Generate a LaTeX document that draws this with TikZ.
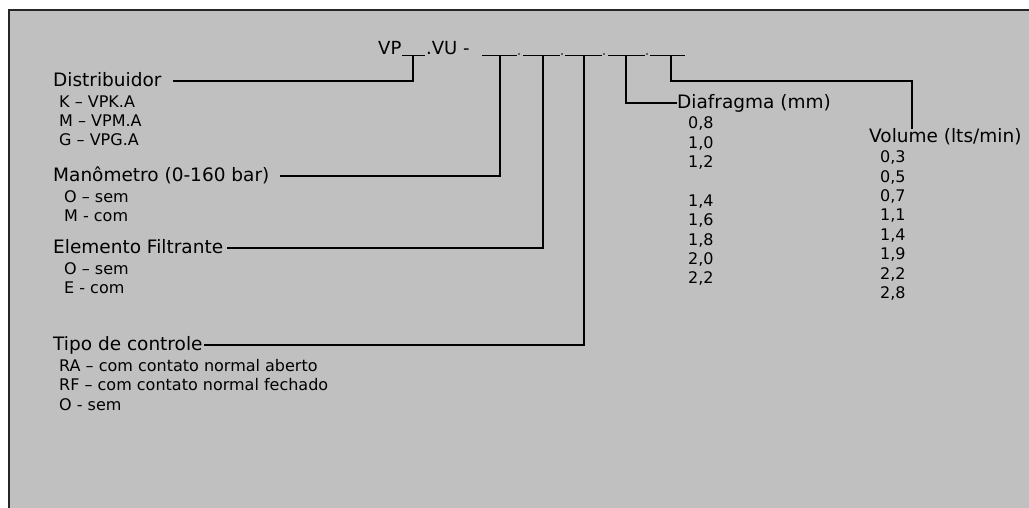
\documentclass[tikz,border=0pt]{standalone}
\usepackage{fontspec}
\setmainfont{DejaVu Sans}
\usetikzlibrary{positioning}
\definecolor{panelgray}{RGB}{192,192,192}
\tikzset{
    head/.style={inner sep=0pt, anchor=west, font=\fontsize{18.5}{21}\selectfont, text height=11pt, text depth=0pt},
    opts/.style={inner sep=0pt, align=left, font=\fontsize{16}{19.4}\selectfont},
    code/.style={inner sep=0pt, anchor=base west, font=\fontsize{18}{21}\selectfont},
    link/.style={line width=1.5pt, black},
    slot/.style={line width=1pt, black},
}

\begin{document}
\begin{tikzpicture}[x=1pt, y=-1pt]
\useasboundingbox (0,0) rectangle (1029,508);
\clip (0,0) rectangle (1029,508);
\draw[fill=panelgray, draw=black!85, line width=2pt] (9,10) rectangle (1040,520);

% order code
\node[code] (vp) at (378,55) {VP};
\node[code] (vu) at (426,55) {.VU -};
\foreach \a/\b in {402/425, 482/517, 523/560, 565/602, 608/645, 650/685}
    \draw[slot] (\a,56) -- (\b,56);
\foreach \x in {519, 562, 604, 647}
    \fill (\x,54) circle (0.9pt);
\coordinate (t0) at (413,56);
\coordinate (t1) at (500,56);
\coordinate (t2) at (543,56);
\coordinate (t3) at (584,56);
\coordinate (t4) at (626,56);
\coordinate (t5) at (671,56);

% left column
\node[head] (dist) at (53,81) {Distribuidor};
\node[opts, below right=8.5pt and 6pt of dist.south west] (dist-opts) {K -- VPK.A\\M -- VPM.A\\G -- VPG.A};

\node[head] (mano) at (53,176) {Manômetro (0-160 bar)};
\node[opts, below right=8.5pt and 11pt of mano.south west] (mano-opts) {O -- sem\\M - com};

\node[head] (elem) at (53,248) {Elemento Filtrante};
\node[opts, below right=8.5pt and 11pt of elem.south west] (elem-opts) {O -- sem\\E - com};

\node[head] (tipo) at (53,345) {Tipo de controle};
\node[opts, below right=8.5pt and 6pt of tipo.south west] (tipo-opts) {RA -- com contato normal aberto\\RF -- com contato normal fechado\\O - sem};

% right columns
\node[head] (diaf) at (677,103) {Diafragma (mm)};
\node[opts, below right=8pt and 11pt of diaf.south west] (diaf-opts) {0,8\\1,0\\1,2\\[19.4pt]1,4\\1,6\\1,8\\2,0\\2,2};

\node[head] (vol) at (869,137.5) {Volume (lts/min)};
\node[opts, below right=7.5pt and 11pt of vol.south west] (vol-opts) {0,3\\0,5\\0,7\\1,1\\1,4\\1,9\\2,2\\2,8};

% connectors
\draw[link] (t0) -- (t0 |- dist.east) -- ([xshift=11pt]dist.east);
\draw[link] (t1) -- (t1 |- mano.east) -- ([xshift=10pt]mano.east);
\draw[link] (t2) -- (t2 |- elem.east) -- ([xshift=4pt]elem.east);
\draw[link] (t3) -- (t3 |- tipo.east) -- ([xshift=1pt]tipo.east);
\draw[link] (t4) -- (t4 |- diaf.west) -- (diaf.west);
\coordinate (vbend) at (912,81);
\draw[link] (t5) |- (vbend) -- ([yshift=3pt]vbend |- vol.north);

\end{tikzpicture}
\end{document}
